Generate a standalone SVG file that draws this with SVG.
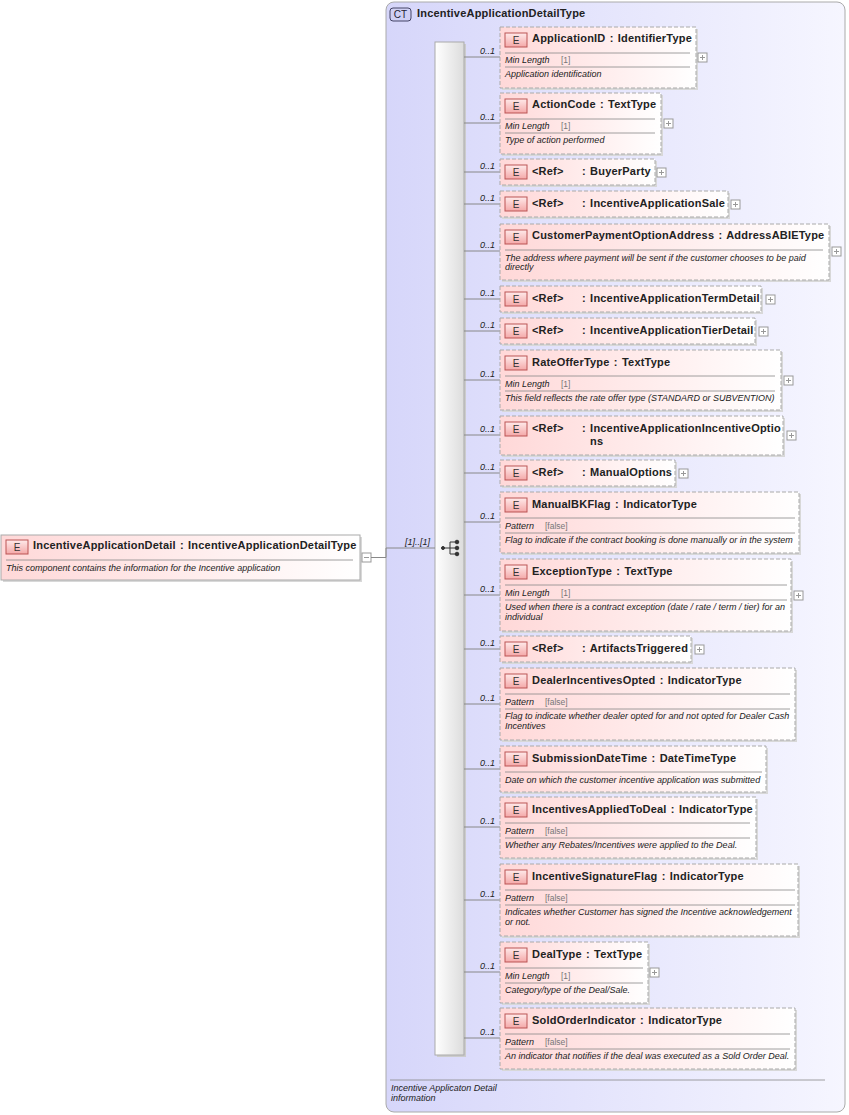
<svg xmlns="http://www.w3.org/2000/svg" width="849" height="1115" viewBox="0 0 849 1115">
<defs>
<linearGradient id="ct" x1="0" y1="0" x2="1" y2="0"><stop offset="0" stop-color="#d6d6fa"/><stop offset="1" stop-color="#f6f6ff"/></linearGradient>
<linearGradient id="el" x1="0" y1="0" x2="1" y2="0"><stop offset="0" stop-color="#ffd8d8"/><stop offset="1" stop-color="#ffffff"/></linearGradient>
<linearGradient id="seq" x1="0" y1="0" x2="1" y2="0"><stop offset="0" stop-color="#ffffff"/><stop offset="1" stop-color="#dcdcdc"/></linearGradient>
<linearGradient id="eb" x1="0" y1="0" x2="0" y2="1"><stop offset="0" stop-color="#ffeaea"/><stop offset="1" stop-color="#f4a8a8"/></linearGradient>
</defs>
<style>
text{font-family:"Liberation Sans",Arial,sans-serif;fill:#222}
.t{font-size:11px;font-weight:bold;letter-spacing:0.2px;word-spacing:1px}
.f{font-size:9px;font-style:italic}
.fv{font-size:8.5px;fill:#777}
.m{font-size:9px;font-style:italic}
.e{font-size:10px;text-anchor:middle;fill:#333}
.n{fill:url(#el);stroke:#aaa;stroke-dasharray:4,2}
.ns{fill:#d8d8d8}
.b{fill:url(#eb);stroke:#b55}
.sep{stroke:#888;stroke-width:0.8}
.c{stroke:#888;fill:none}
.pb{fill:#fff;stroke:#999}
.pl{stroke:#999}
</style>
<g id="ct-box">
<rect x="386" y="2" width="459" height="1110" rx="8" fill="url(#ct)" stroke="#aaa"/>
<rect x="390" y="8" width="21" height="13" rx="3" fill="#d0d0f4" stroke="#446"/>
<text x="400.5" y="18" class="e" style="fill:#223">CT</text>
<text x="417" y="17" class="t">IncentiveApplicationDetailType</text>
<line x1="390" y1="1080" x2="825" y2="1080" class="sep"/>
<text x="391" y="1091" class="m">Incentive Applicaton Detail</text>
<text x="391" y="1101" class="m">information</text>
</g>
<g id="sequence">
<rect x="437" y="44" width="29" height="1013" fill="#ccc"/>
<rect x="435" y="42" width="29" height="1013" fill="url(#seq)" stroke="#aaa"/>
<g fill="#333" stroke="#333">
<line x1="444" y1="548" x2="450" y2="548"/><line x1="450" y1="542" x2="450" y2="554"/>
<line x1="450" y1="542" x2="456" y2="542"/><line x1="450" y1="548" x2="456" y2="548"/><line x1="450" y1="554" x2="456" y2="554"/>
<circle cx="443" cy="548" r="1.5"/><circle cx="457" cy="542" r="1.8"/><circle cx="457" cy="548" r="1.8"/><circle cx="457" cy="554" r="1.8"/>
</g>
</g>
<g id="root">
<rect x="3" y="537" width="359" height="45" class="ns"/>
<rect x="1" y="535" width="359" height="45" fill="url(#el)" stroke="#aaa"/>
<rect x="6" y="540" width="22" height="14" class="b"/><text x="17" y="551" class="e">E</text>
<text x="33" y="549" class="t">IncentiveApplicationDetail : IncentiveApplicationDetailType</text>
<line x1="6" y1="560" x2="353" y2="560" class="sep"/>
<text x="6" y="571" class="f">This component contains the information for the Incentive application</text>
<rect x="362" y="553" width="9" height="9" class="pb"/><line x1="364" y1="557.5" x2="369" y2="557.5" class="pl"/>
</g>
<g id="connectors" class="c">
<polyline points="371,557.5 386,557.5 386,548 435,548" />
<path d="M464 57H500M464 123H500M464 172H500M464 204H500M464 251H500M464 299H500M464 331H500M464 380H500M464 435H500M464 473H500M464 522H500M464 595H500M464 649H500M464 704H500M464 769H500M464 827H500M464 900H500M464 972H500M464 1038H500"/>
</g>
<g id="labels" class="m">
<text x="405" y="545">[1]..[1]</text>
<text x="480" y="54">0..1</text><text x="480" y="120">0..1</text><text x="480" y="169">0..1</text><text x="480" y="201">0..1</text><text x="480" y="248">0..1</text><text x="480" y="296">0..1</text><text x="480" y="328">0..1</text><text x="480" y="377">0..1</text><text x="480" y="432">0..1</text><text x="480" y="470">0..1</text><text x="480" y="519">0..1</text><text x="480" y="592">0..1</text><text x="480" y="646">0..1</text><text x="480" y="701">0..1</text><text x="480" y="766">0..1</text><text x="480" y="824">0..1</text><text x="480" y="897">0..1</text><text x="480" y="969">0..1</text><text x="480" y="1035">0..1</text>
</g>

<g id="n1"><rect x="502" y="29" width="196" height="61" class="ns"/><rect x="500" y="27" width="196" height="61" class="n"/>
<rect x="505" y="33" width="22" height="14" class="b"/><text x="516" y="44" class="e">E</text>
<text x="532" y="42" class="t">ApplicationID : IdentifierType</text>
<line x1="505" y1="53" x2="690" y2="53" class="sep"/><text x="505" y="63" class="f">Min Length</text><text x="561" y="63" class="fv">[1]</text>
<line x1="505" y1="67" x2="690" y2="67" class="sep"/><text x="505" y="77" class="f">Application identification</text>
<rect x="698" y="53" width="9" height="9" class="pb"/><path d="M700 57.5H705M702.5 55V60" class="pl"/></g>

<g id="n2"><rect x="502" y="95" width="161" height="61" class="ns"/><rect x="500" y="93" width="161" height="61" class="n"/>
<rect x="505" y="99" width="22" height="14" class="b"/><text x="516" y="110" class="e">E</text>
<text x="532" y="108" class="t">ActionCode : TextType</text>
<line x1="505" y1="119" x2="655" y2="119" class="sep"/><text x="505" y="129" class="f">Min Length</text><text x="561" y="129" class="fv">[1]</text>
<line x1="505" y1="133" x2="655" y2="133" class="sep"/><text x="505" y="143" class="f">Type of action performed</text>
<rect x="664" y="119" width="9" height="9" class="pb"/><path d="M666 123.5H671M668.5 121V126" class="pl"/></g>

<g id="n3"><rect x="502" y="161" width="155" height="26" class="ns"/><rect x="500" y="159" width="155" height="26" class="n"/>
<rect x="505" y="165" width="22" height="14" class="b"/><text x="516" y="176" class="e">E</text>
<text x="532" y="175" class="t">&lt;Ref&gt;</text><text x="582" y="175" class="t">: BuyerParty</text>
<rect x="657" y="168" width="9" height="9" class="pb"/><path d="M659 172.5H664M661.5 170V175" class="pl"/></g>

<g id="n4"><rect x="502" y="193" width="228" height="26" class="ns"/><rect x="500" y="191" width="228" height="26" class="n"/>
<rect x="505" y="197" width="22" height="14" class="b"/><text x="516" y="208" class="e">E</text>
<text x="532" y="207" class="t">&lt;Ref&gt;</text><text x="582" y="207" class="t">: IncentiveApplicationSale</text>
<rect x="731" y="200" width="9" height="9" class="pb"/><path d="M733 204.5H738M735.5 202V207" class="pl"/></g>

<g id="n5"><rect x="502" y="226" width="329" height="56" class="ns"/><rect x="500" y="224" width="329" height="56" class="n"/>
<rect x="505" y="230" width="22" height="14" class="b"/><text x="516" y="241" class="e">E</text>
<text x="532" y="239" class="t">CustomerPaymentOptionAddress : AddressABIEType</text>
<line x1="505" y1="250" x2="823" y2="250" class="sep"/>
<text x="505" y="261" class="f">The address where payment will be sent if the customer chooses to be paid</text>
<text x="505" y="270" class="f">directly</text>
<rect x="832" y="247" width="9" height="9" class="pb"/><path d="M834 251.5H839M836.5 249V254" class="pl"/></g>

<g id="n6"><rect x="502" y="288" width="261" height="26" class="ns"/><rect x="500" y="286" width="261" height="26" class="n"/>
<rect x="505" y="292" width="22" height="14" class="b"/><text x="516" y="303" class="e">E</text>
<text x="532" y="302" class="t">&lt;Ref&gt;</text><text x="582" y="302" class="t">: IncentiveApplicationTermDetail</text>
<rect x="766" y="295" width="9" height="9" class="pb"/><path d="M768 299.5H773M770.5 297V302" class="pl"/></g>

<g id="n7"><rect x="502" y="320" width="255" height="26" class="ns"/><rect x="500" y="318" width="255" height="26" class="n"/>
<rect x="505" y="324" width="22" height="14" class="b"/><text x="516" y="335" class="e">E</text>
<text x="532" y="334" class="t">&lt;Ref&gt;</text><text x="582" y="334" class="t">: IncentiveApplicationTierDetail</text>
<rect x="759" y="327" width="9" height="9" class="pb"/><path d="M761 331.5H766M763.5 329V334" class="pl"/></g>

<g id="n8"><rect x="502" y="352" width="281" height="60" class="ns"/><rect x="500" y="350" width="281" height="60" class="n"/>
<rect x="505" y="356" width="22" height="14" class="b"/><text x="516" y="367" class="e">E</text>
<text x="532" y="366" class="t">RateOfferType : TextType</text>
<line x1="505" y1="376" x2="775" y2="376" class="sep"/><text x="505" y="387" class="f">Min Length</text><text x="561" y="387" class="fv">[1]</text>
<line x1="505" y1="391" x2="775" y2="391" class="sep"/><text x="505" y="401" class="f">This field reflects the rate offer type (STANDARD or SUBVENTION)</text>
<rect x="784" y="376" width="9" height="9" class="pb"/><path d="M786 380.5H791M788.5 378V383" class="pl"/></g>

<g id="n9"><rect x="502" y="418" width="283" height="39" class="ns"/><rect x="500" y="416" width="283" height="39" class="n"/>
<rect x="505" y="422" width="22" height="14" class="b"/><text x="516" y="433" class="e">E</text>
<text x="532" y="432" class="t">&lt;Ref&gt;</text><text x="582" y="432" class="t">: IncentiveApplicationIncentiveOptio</text>
<text x="590" y="445" class="t">ns</text>
<rect x="787" y="431" width="9" height="9" class="pb"/><path d="M789 435.5H794M791.5 433V438" class="pl"/></g>

<g id="n10"><rect x="502" y="462" width="175" height="26" class="ns"/><rect x="500" y="460" width="175" height="26" class="n"/>
<rect x="505" y="466" width="22" height="14" class="b"/><text x="516" y="477" class="e">E</text>
<text x="532" y="476" class="t">&lt;Ref&gt;</text><text x="582" y="476" class="t">: ManualOptions</text>
<rect x="679" y="469" width="9" height="9" class="pb"/><path d="M681 473.5H686M683.5 471V476" class="pl"/></g>

<g id="n11"><rect x="502" y="494" width="299" height="61" class="ns"/><rect x="500" y="492" width="299" height="61" class="n"/>
<rect x="505" y="498" width="22" height="14" class="b"/><text x="516" y="509" class="e">E</text>
<text x="532" y="508" class="t">ManualBKFlag : IndicatorType</text>
<line x1="505" y1="518" x2="795" y2="518" class="sep"/><text x="505" y="529" class="f">Pattern</text><text x="545" y="529" class="fv">[false]</text>
<line x1="505" y1="533" x2="795" y2="533" class="sep"/><text x="505" y="543" class="f">Flag to indicate if the contract booking is done manually or in the system</text></g>

<g id="n12"><rect x="502" y="561" width="291" height="72" class="ns"/><rect x="500" y="559" width="291" height="72" class="n"/>
<rect x="505" y="565" width="22" height="14" class="b"/><text x="516" y="576" class="e">E</text>
<text x="532" y="575" class="t">ExceptionType : TextType</text>
<line x1="505" y1="585" x2="787" y2="585" class="sep"/><text x="505" y="596" class="f">Min Length</text><text x="561" y="596" class="fv">[1]</text>
<line x1="505" y1="600" x2="787" y2="600" class="sep"/>
<text x="505" y="610" class="f">Used when there is a contract exception (date / rate / term / tier) for an</text>
<text x="505" y="620" class="f">individual</text>
<rect x="794" y="591" width="9" height="9" class="pb"/><path d="M796 595.5H801M798.5 593V598" class="pl"/></g>

<g id="n13"><rect x="502" y="638" width="191" height="26" class="ns"/><rect x="500" y="636" width="191" height="26" class="n"/>
<rect x="505" y="642" width="22" height="14" class="b"/><text x="516" y="653" class="e">E</text>
<text x="532" y="652" class="t">&lt;Ref&gt;</text><text x="582" y="652" class="t">: ArtifactsTriggered</text>
<rect x="695" y="645" width="9" height="9" class="pb"/><path d="M697 649.5H702M699.5 647V652" class="pl"/></g>

<g id="n14"><rect x="502" y="670" width="295" height="72" class="ns"/><rect x="500" y="668" width="295" height="72" class="n"/>
<rect x="505" y="674" width="22" height="14" class="b"/><text x="516" y="685" class="e">E</text>
<text x="532" y="684" class="t">DealerIncentivesOpted : IndicatorType</text>
<line x1="505" y1="694" x2="790" y2="694" class="sep"/><text x="505" y="705" class="f">Pattern</text><text x="545" y="705" class="fv">[false]</text>
<line x1="505" y1="709" x2="790" y2="709" class="sep"/>
<text x="505" y="719" class="f">Flag to indicate whether dealer opted for and not opted for Dealer Cash</text>
<text x="505" y="729" class="f">Incentives</text></g>

<g id="n15"><rect x="502" y="748" width="266" height="46" class="ns"/><rect x="500" y="746" width="266" height="46" class="n"/>
<rect x="505" y="752" width="22" height="14" class="b"/><text x="516" y="763" class="e">E</text>
<text x="532" y="762" class="t">SubmissionDateTime : DateTimeType</text>
<line x1="505" y1="772" x2="762" y2="772" class="sep"/>
<text x="505" y="783" class="f">Date on which the customer incentive application was submitted</text></g>

<g id="n16"><rect x="502" y="799" width="256" height="61" class="ns"/><rect x="500" y="797" width="256" height="61" class="n"/>
<rect x="505" y="803" width="22" height="14" class="b"/><text x="516" y="814" class="e">E</text>
<text x="532" y="813" class="t">IncentivesAppliedToDeal : IndicatorType</text>
<line x1="505" y1="823" x2="750" y2="823" class="sep"/><text x="505" y="834" class="f">Pattern</text><text x="545" y="834" class="fv">[false]</text>
<line x1="505" y1="838" x2="750" y2="838" class="sep"/><text x="505" y="848" class="f">Whether any Rebates/Incentives were applied to the Deal.</text></g>

<g id="n17"><rect x="502" y="866" width="298" height="72" class="ns"/><rect x="500" y="864" width="298" height="72" class="n"/>
<rect x="505" y="870" width="22" height="14" class="b"/><text x="516" y="881" class="e">E</text>
<text x="532" y="880" class="t">IncentiveSignatureFlag : IndicatorType</text>
<line x1="505" y1="890" x2="795" y2="890" class="sep"/><text x="505" y="901" class="f">Pattern</text><text x="545" y="901" class="fv">[false]</text>
<line x1="505" y1="905" x2="795" y2="905" class="sep"/>
<text x="505" y="915" class="f">Indicates whether Customer has signed the Incentive acknowledgement</text>
<text x="505" y="925" class="f">or not.</text></g>

<g id="n18"><rect x="502" y="944" width="148" height="61" class="ns"/><rect x="500" y="942" width="148" height="61" class="n"/>
<rect x="505" y="948" width="22" height="14" class="b"/><text x="516" y="959" class="e">E</text>
<text x="532" y="958" class="t">DealType : TextType</text>
<line x1="505" y1="968" x2="643" y2="968" class="sep"/><text x="505" y="979" class="f">Min Length</text><text x="561" y="979" class="fv">[1]</text>
<line x1="505" y1="983" x2="643" y2="983" class="sep"/><text x="505" y="993" class="f">Category/type of the Deal/Sale.</text>
<rect x="650" y="968" width="9" height="9" class="pb"/><path d="M652 972.5H657M654.5 970V975" class="pl"/></g>

<g id="n19"><rect x="502" y="1010" width="295" height="61" class="ns"/><rect x="500" y="1008" width="295" height="61" class="n"/>
<rect x="505" y="1014" width="22" height="14" class="b"/><text x="516" y="1025" class="e">E</text>
<text x="532" y="1024" class="t">SoldOrderIndicator : IndicatorType</text>
<line x1="505" y1="1034" x2="790" y2="1034" class="sep"/><text x="505" y="1045" class="f">Pattern</text><text x="545" y="1045" class="fv">[false]</text>
<line x1="505" y1="1049" x2="790" y2="1049" class="sep"/><text x="505" y="1059" class="f">An indicator that notifies if the deal was executed as a Sold Order Deal.</text></g>
</svg>
